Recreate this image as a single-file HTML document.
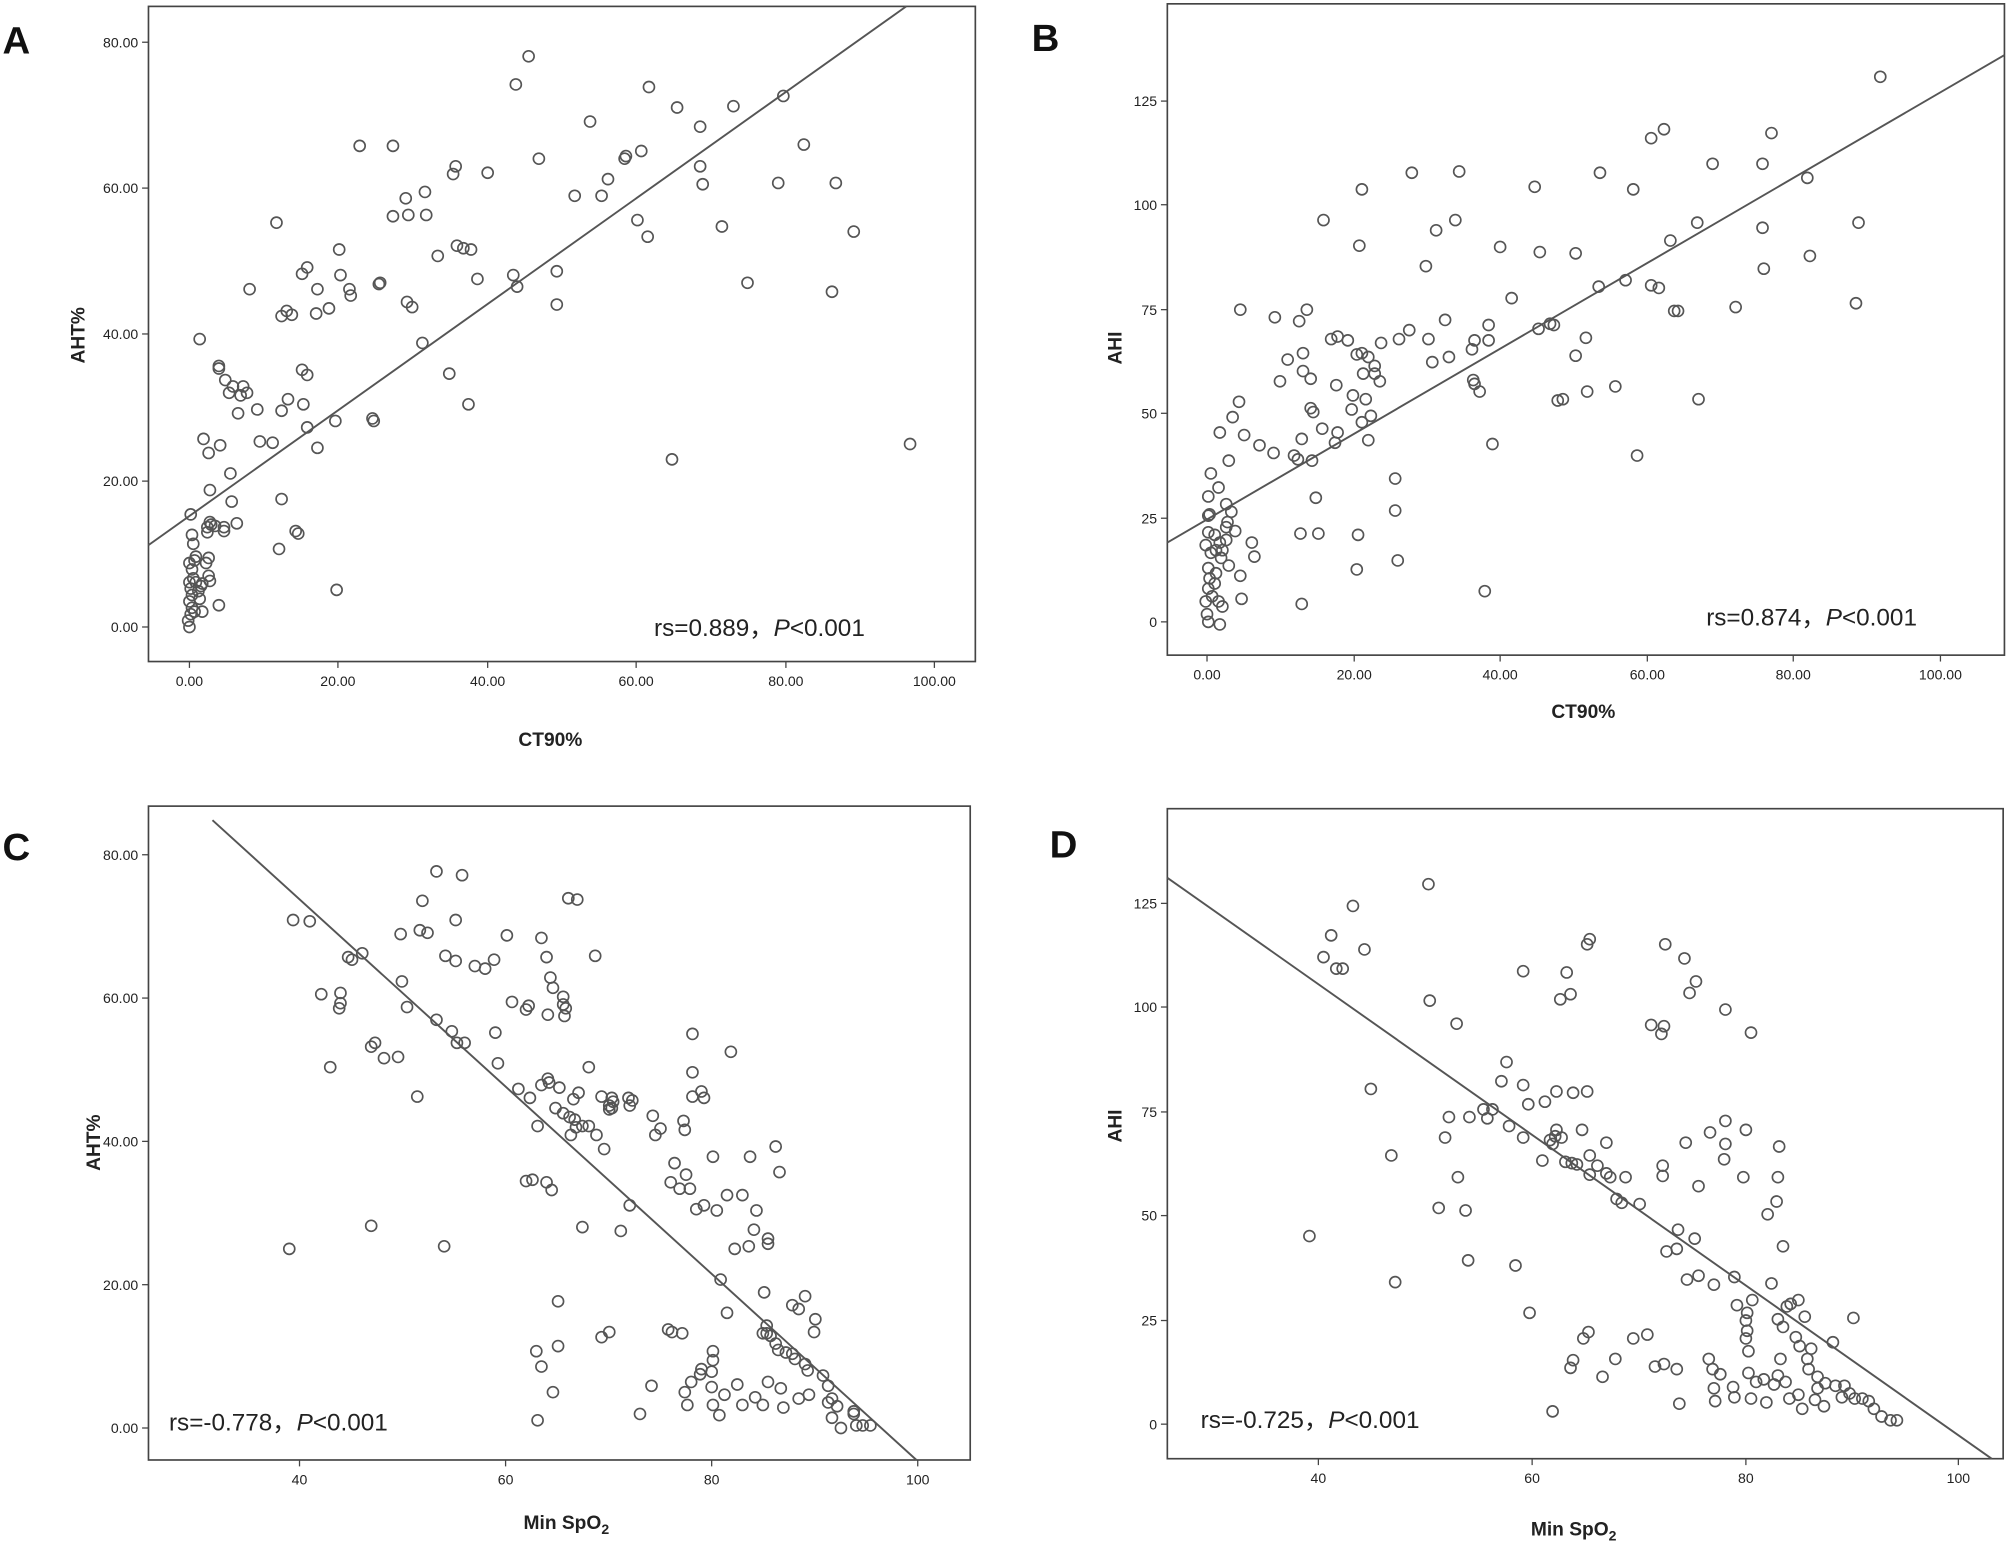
<!DOCTYPE html>
<html><head><meta charset="utf-8">
<style>
html,body{margin:0;padding:0;background:#fff;}
svg{display:block;}
text{font-family:"Liberation Sans",Arial,sans-serif;fill:#222;}
.t{font-size:11px;}
.ax{font-size:15px;font-weight:bold;}
.L{font-size:30px;font-weight:bold;fill:#111;}
.rs{font-size:19px;}
</style></head>
<body>
<svg id="s" width="2007" height="1547" viewBox="0 0 1568 1209" preserveAspectRatio="none" xmlns="http://www.w3.org/2000/svg">
<rect width="1568" height="1209" fill="#fff"/>
<g fill="none" stroke="#444" stroke-width="1.3">
<rect x="116" y="5" width="646" height="512"/>
<rect x="912" y="3" width="654" height="509"/>
<rect x="116" y="630" width="642" height="511"/>
<rect x="912" y="632" width="653" height="508"/>
</g>
<g stroke="#555" stroke-width="1.5">
<line x1="116" y1="426" x2="708" y2="5"/>
<line x1="912" y1="424" x2="1566" y2="43"/>
<line x1="166" y1="641" x2="716" y2="1141"/>
<line x1="912" y1="686" x2="1556" y2="1140"/>
</g>
<g id="ticks" stroke="#444" stroke-width="1"></g>
<g id="pts" fill="none" stroke="#555" stroke-width="1.3"></g>
<g id="lab"></g>
<text class="L" x="2" y="42">A</text>
<text class="L" x="806" y="40">B</text>
<text class="L" x="2" y="672">C</text>
<text class="L" x="820" y="670">D</text>
<text class="ax" x="405" y="583">CT90%</text>
<text class="ax" x="1212" y="561">CT90%</text>
<text class="ax" x="409" y="1195">Min SpO<tspan font-size="11" dy="4">2</tspan></text>
<text class="ax" x="1196" y="1200">Min SpO<tspan font-size="11" dy="4">2</tspan></text>
<text class="ax" transform="translate(66,262) rotate(-90)" text-anchor="middle">AHT%</text>
<text class="ax" transform="translate(876,272) rotate(-90)" text-anchor="middle">AHI</text>
<text class="ax" transform="translate(78,893) rotate(-90)" text-anchor="middle">AHT%</text>
<text class="ax" transform="translate(876,880) rotate(-90)" text-anchor="middle">AHI</text>
<text class="rs" x="511" y="497">rs=0.889，<tspan font-style="italic">P</tspan>&lt;0.001</text>
<text class="rs" x="1333" y="489">rs=0.874，<tspan font-style="italic">P</tspan>&lt;0.001</text>
<text class="rs" x="132" y="1118">rs=-0.778，<tspan font-style="italic">P</tspan>&lt;0.001</text>
<text class="rs" x="938" y="1116">rs=-0.725，<tspan font-style="italic">P</tspan>&lt;0.001</text>
</svg>
<script>
var NS="http://www.w3.org/2000/svg";
function el(p,n,a,t){var e=document.createElementNS(NS,n);for(var k in a)e.setAttribute(k,a[k]);if(t)e.textContent=t;document.getElementById(p).appendChild(e);}
function xt(y,list){list.forEach(function(a){el("ticks","line",{x1:a[0],x2:a[0],y1:y,y2:y+5});el("lab","text",{x:a[0],y:y+19,"class":"t","text-anchor":"middle"},a[1]);});}
function yt(x,list){list.forEach(function(a){el("ticks","line",{x1:x-5,x2:x,y1:a[0],y2:a[0]});el("lab","text",{x:x-8,y:a[0]+4,"class":"t","text-anchor":"end"},a[1]);});}
xt(517,[[148,"0.00"],[264,"20.00"],[381,"40.00"],[497,"60.00"],[614,"80.00"],[730,"100.00"]]);
yt(116,[[490,"0.00"],[376,"20.00"],[261,"40.00"],[147,"60.00"],[33,"80.00"]]);
xt(512,[[943,"0.00"],[1058,"20.00"],[1172,"40.00"],[1287,"60.00"],[1401,"80.00"],[1516,"100.00"]]);
yt(912,[[486,"0"],[405,"25"],[323,"50"],[242,"75"],[160,"100"],[79,"125"]]);
xt(1141,[[234,"40"],[395,"60"],[556,"80"],[717,"100"]]);
yt(116,[[1116,"0.00"],[1004,"20.00"],[892,"40.00"],[780,"60.00"],[668,"80.00"]]);
xt(1140,[[1030,"40"],[1197,"60"],[1364,"80"],[1530,"100"]]);
yt(912,[[1113,"0"],[1032,"25"],[950,"50"],[869,"75"],[787,"100"],[706,"125"]]);
var P=[
413,44,403,66,507,68,461,95,529,84,573,83,612,75,628,113,547,99,307,114,281,114,356,130,421,124,354,136,381,135,489,122,501,118,547,130,608,143,549,144,653,143,307,169,317,155,332,150,319,168,333,168,449,153,475,140,470,153,488,124,216,174,265,195,296,222,342,200,357,192,362,194,368,195,373,218,401,215,404,224,435,212,435,238,318,236,322,240,330,268,498,172,506,185,564,177,584,221,650,228,667,181,240,209,236,214,266,215,274,231,273,226,297,221,195,226,248,226,257,241,247,245,224,243,228,246,220,247,156,265,171,286,171,288,176,297,190,302,182,302,188,309,193,307,179,307,201,320,213,346,203,345,236,289,237,316,240,293,220,321,225,312,240,334,248,350,262,329,291,327,292,329,159,343,163,354,172,348,180,370,164,383,186,323,181,392,185,409,220,390,218,429,231,415,233,417,263,461,711,347,525,359,366,316,351,292,164,408,165,410,168,411,175,415,171,473,175,412,162,412,162,416,163,436,161,440,163,450,164,454,158,456,149,402,150,418,151,425,153,435,152,438,148,440,150,445,151,452,148,455,149,460,150,465,148,470,150,475,149,480,147,485,148,490,152,478,155,462,158,478,157,458,153,455,156,468,
1469,60,1300,101,1290,108,1384,104,1338,128,1377,128,1412,139,1452,174,1326,174,1276,148,1250,135,1199,146,1140,134,1103,135,1064,148,1034,172,1062,192,1137,172,1122,180,1114,208,1172,193,1203,197,1231,198,1305,188,1308,243,1311,243,1249,224,1270,219,1377,178,1378,210,1414,200,1450,237,1356,240,1327,312,1296,225,1290,223,1262,302,1240,306,1221,312,1211,253,1202,257,1181,233,1163,254,1163,266,1152,266,1150,273,1132,279,1129,250,1116,265,1119,283,1101,258,1093,265,1079,268,1074,292,1069,279,1074,286,1040,265,1045,263,1053,266,1065,292,1060,277,1021,242,1015,251,1018,276,1006,281,969,242,996,248,1018,290,1024,319,1026,322,1044,301,1056,320,1033,335,1017,343,1014,359,1025,360,1016,417,1030,417,1028,389,1043,346,1064,276,1024,296,1011,356,1078,298,1057,309,1067,312,1071,325,1064,330,1069,344,1045,338,1090,374,1092,438,1061,418,1166,347,1152,300,1156,306,1151,297,1239,264,1214,254,1217,313,1231,278,1279,356,1090,399,1060,445,1000,298,968,314,963,326,972,340,995,354,984,348,960,360,952,381,958,394,959,408,958,412,962,400,953,338,946,370,944,388,945,402,944,416,942,426,946,432,944,444,945,452,944,460,942,470,943,480,944,486,947,466,949,456,950,448,953,424,955,430,949,418,970,468,969,450,980,435,958,422,954,436,965,415,978,424,960,442,950,430,944,403,953,488,952,470,955,474,1017,472,1160,462,
330,704,341,681,361,684,356,719,328,727,313,730,283,745,334,729,348,747,242,720,272,748,275,750,229,719,251,777,266,776,266,784,265,788,314,767,356,751,371,755,379,757,386,750,396,731,400,783,423,733,444,702,451,703,427,748,465,747,430,764,432,772,440,779,440,785,442,788,428,793,441,794,413,786,411,789,341,797,353,806,363,815,357,815,318,787,290,818,387,807,389,831,258,834,293,815,311,826,326,857,300,827,405,851,414,858,423,848,429,846,437,850,440,870,448,859,449,875,445,873,450,881,455,880,434,866,446,887,420,880,460,880,466,887,428,843,452,854,460,834,470,857,478,858,479,861,478,866,476,867,472,898,476,864,491,858,492,864,494,860,510,872,512,887,516,882,541,857,541,838,541,808,534,876,535,883,548,853,550,858,527,909,524,924,531,929,536,918,539,929,557,904,571,822,586,904,568,934,550,942,544,945,560,946,580,934,591,946,563,1000,568,1026,574,976,585,974,589,961,600,968,606,896,600,972,609,916,597,1010,599,1036,602,1044,624,1023,629,1013,619,1020,599,1042,596,1042,606,1050,619,1058,637,1031,636,1041,608,1055,614,1057,621,1062,629,1066,631,1071,643,1075,647,1083,647,1096,632,1090,624,1093,650,1093,654,1099,667,1103,667,1105,669,1114,657,1116,674,1114,680,1114,650,1108,612,1100,610,1085,600,1080,596,1098,590,1092,576,1082,580,1098,566,1090,562,1106,557,1056,557,1063,556,1072,556,1084,557,1098,548,1070,540,1080,537,1098,533,1042,525,1041,522,1039,547,1074,535,1088,509,1083,500,1105,476,1041,470,1045,436,1052,423,1068,436,1017,419,1056,432,1088,420,1110,226,976,290,958,347,974,411,923,416,922,427,924,431,930,455,959,485,962,492,942,
1116,691,1057,708,1040,731,1066,742,1034,748,1044,757,1049,757,1190,759,1117,782,1224,760,1227,777,1219,781,1301,738,1316,749,1320,776,1325,767,1242,734,1240,738,1290,801,1300,802,1298,808,1348,789,1368,807,1177,830,1190,848,1194,863,1207,861,1216,853,1240,853,1229,854,1162,874,1132,873,1148,873,1159,867,1166,867,1129,889,1216,883,1215,888,1179,880,1173,845,1138,800,1071,851,1087,903,1124,944,1145,946,1139,920,1190,889,1205,907,1211,891,1213,894,1220,889,1223,908,1228,909,1232,910,1242,903,1242,918,1248,911,1255,893,1236,883,1255,917,1258,920,1270,920,1263,937,1267,940,1281,941,1299,911,1299,919,1317,893,1327,927,1336,885,1348,876,1348,894,1347,906,1364,883,1362,920,1381,949,1388,939,1390,896,1389,920,1393,974,1324,968,1311,961,1310,976,1302,978,1318,1000,1327,997,1339,1004,1355,998,1357,1020,1369,1016,1365,1026,1364,1032,1365,1040,1384,1003,1396,1021,1399,1019,1405,1016,1410,1029,1389,1031,1393,1037,1403,1045,1406,1052,1415,1054,1412,1062,1413,1070,1432,1049,1448,1030,1420,1076,1426,1081,1434,1083,1441,1083,1445,1089,1449,1093,1455,1093,1460,1095,1464,1101,1470,1107,1477,1110,1482,1110,1439,1092,1418,1094,1408,1101,1398,1093,1386,1082,1389,1075,1378,1078,1372,1080,1391,1062,1380,1096,1368,1093,1355,1092,1339,1085,1338,1070,1335,1062,1344,1074,1354,1084,1366,1056,1364,1046,1366,1073,1395,1080,1405,1090,1420,1085,1425,1099,1300,1066,1310,1070,1293,1068,1276,1046,1262,1062,1241,1041,1237,1046,1195,1026,1227,1069,1229,1063,1213,1103,1312,1097,1023,966,1090,1002,1147,985,1184,989,1252,1076,1340,1095,1287,1043];
for(var i=0;i<P.length;i+=2)el("pts","circle",{cx:P[i],cy:P[i+1],r:4.3});
</script>
</body></html>
